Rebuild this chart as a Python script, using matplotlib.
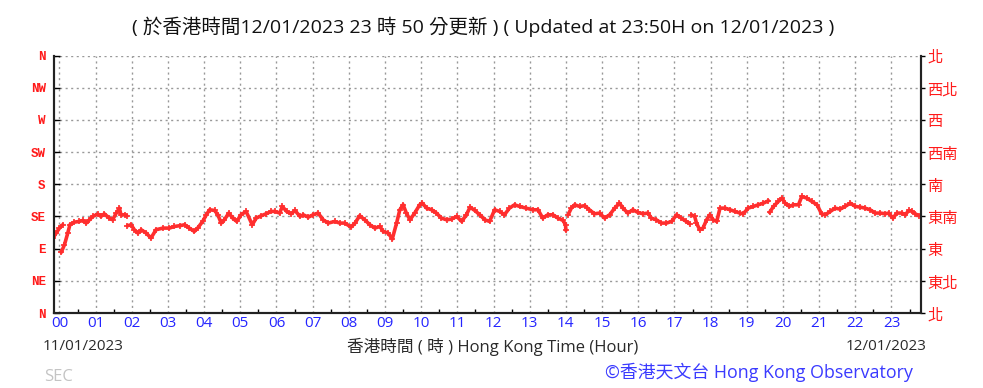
import numpy as np
import matplotlib.pyplot as plt

# wind direction (degrees) vs HK time (hours), nan = gap in record
hours = [-0.18, -0.09, 0.0, 0.09, np.nan,
         0.05, 0.14, 0.23, 0.29, 0.41, 0.55, 0.65, 0.74, 0.83, 0.92, 1.06, 1.15,
         1.24, 1.38, 1.47, 1.57, 1.66, 1.70, 1.80, 1.86, np.nan,
         1.88, 1.98, 2.07, 2.17, 2.26, 2.40, 2.53, 2.67, 2.86, 3.04, 3.18, 3.32,
         3.46, 3.59, 3.73, 3.82, 3.96, 4.06, 4.15, 4.29, 4.38, 4.47, 4.56, 4.68,
         4.79, 4.90, 5.02, 5.16, 5.33, 5.44, 5.58, 5.71, 5.85, 5.95, 6.09, 6.16,
         6.28, 6.41, 6.51, 6.65, 6.74, 6.88, 7.01, 7.15, 7.29, 7.43, 7.61, 7.75,
         7.89, 8.06, 8.17, 8.30, 8.44, 8.58, 8.72, 8.86, 8.95, 9.09, 9.20, 9.32,
         9.41, 9.50, 9.59, 9.69, 9.82, 9.96, 10.03, 10.15, 10.29, 10.42, 10.56,
         10.70, 10.84, 10.98, 11.12, 11.25, 11.35, 11.48, 11.62, 11.76, 11.89,
         12.03, 12.17, 12.30, 12.44, 12.58, 12.72, 12.90, 13.09, 13.23, 13.36,
         13.50, 13.64, 13.78, 13.92, 13.99, 14.0, np.nan,
         14.06, 14.15, 14.24, 14.38, 14.52, 14.65, 14.79, 14.93, 15.07, 15.21,
         15.35, 15.48, 15.58, 15.71, 15.85, 15.99, 16.13, 16.27, 16.36, 16.50,
         16.64, 16.78, 16.92, 17.06, 17.19, 17.33, 17.42, np.nan,
         17.47, 17.56, 17.61, 17.70, 17.79, 17.89, 17.98, 18.07, 18.17, 18.26,
         18.40, 18.54, 18.67, 18.81, 18.90, 19.04, 19.18, 19.32, 19.46, 19.60, np.nan,
         19.63, 19.74, 19.87, 19.97, 20.06, 20.18, 20.29, 20.43, 20.52, 20.66,
         20.80, 20.94, 21.07, 21.17, 21.31, 21.44, 21.58, 21.72, 21.86, 22.00,
         22.14, 22.27, 22.41, 22.55, 22.69, 22.83, 22.92, 23.04, 23.15, 23.29,
         23.38, 23.48, 23.57, 23.66, 23.75]
direction = [104.8, 111.7, 118.7, 123.4, np.nan,
             84.8, 95.5, 111.7, 123.4, 127.0, 128.0, 129.4, 125.7, 130.3, 135.0, 138.3, 135.0,
             138.7, 132.7, 130.3, 139.7, 146.6, 137.3, 137.3, 136.0, np.nan,
             122.0, 123.4, 116.4, 111.7, 116.4, 111.7, 104.8, 116.4, 118.7, 118.7, 121.0, 122.0,
             123.4, 118.7, 114.0, 118.7, 128.0, 137.3, 144.3, 143.4, 137.3, 125.7, 130.3, 139.7,
             132.7, 128.0, 137.3, 142.0, 123.4, 132.7, 136.0, 138.7, 142.0, 142.0, 139.7, 149.0,
             142.0, 138.7, 143.4, 135.0, 137.3, 134.0, 137.3, 139.7, 130.3, 125.7, 128.0, 125.7,
             125.7, 120.1, 125.7, 136.0, 130.3, 123.4, 118.7, 121.0, 114.0, 111.7, 103.4, 125.7,
             144.3, 151.3, 139.7, 130.3, 139.7, 151.3, 153.6, 146.6, 144.3, 139.7, 132.7,
             130.3, 131.3, 135.0, 128.0, 137.3, 148.0, 143.4, 137.3, 130.3, 128.0,
             144.3, 142.0, 137.3, 146.6, 151.3, 149.0, 146.6, 144.3, 144.3, 132.7,
             137.3, 137.3, 132.7, 129.4, 123.4, 115.5, np.nan,
             137.3, 146.6, 151.3, 149.0, 150.0, 144.3, 138.7, 139.7, 132.7, 137.3,
             146.6, 153.6, 146.6, 139.7, 144.3, 140.6, 138.7, 139.7, 132.7, 130.3,
             125.7, 125.7, 128.0, 137.3, 132.7, 128.0, 124.8, np.nan,
             137.3, 135.0, 125.7, 116.4, 118.7, 130.3, 137.3, 130.3, 128.0, 146.6,
             146.6, 144.3, 142.0, 139.7, 138.7, 146.6, 149.0, 151.3, 153.6, 156.9, np.nan,
             140.6, 149.0, 155.9, 160.6, 153.6, 149.0, 151.3, 151.3, 162.9, 160.6,
             155.9, 151.3, 138.7, 137.3, 142.0, 146.6, 145.2, 149.0, 153.6, 149.0,
             148.0, 146.6, 144.3, 139.7, 139.7, 138.7, 139.7, 132.7, 139.7, 139.7,
             137.3, 143.4, 142.0, 138.7, 136.0]

dir_levels = [0, 45, 90, 135, 180, 225, 270, 315, 360]
dir_en = ['N', 'NE', 'E', 'SE', 'S', 'SW', 'W', 'NW', 'N']
dir_zh = ['北', '東北', '東', '東南', '南', '西南', '西', '西北', '北']
hour_labels = ['%02d' % h for h in range(24)]

title_txt = '( 於香港時間12/01/2023 23 時 50 分更新 ) ( Updated at 23:50H on 12/01/2023 )'
xlabel_txt = '香港時間 ( 時 ) Hong Kong Time (Hour)'
date_left = '11/01/2023'
date_right = '12/01/2023'
credit_txt = '©香港天文台 Hong Kong Observatory'

fam = ['Open Sans', 'Noto Sans CJK TC', 'DejaVu Sans']
plt.rcParams['font.family'] = fam

W, H = 983, 388
fig = plt.figure(figsize=(W / 100, H / 100), dpi=100)
ax = fig.add_axes([54 / W, 1 - 313 / H, (921.5 - 54) / W, (313 - 55.5) / H])

red = '#ff1a1a'
ax.plot(hours, direction, color='#ff2e2e', lw=2.6, marker='+', ms=5, mew=1.2,
        solid_capstyle='round', zorder=3)

ax.set_xlim(-0.15, 23.83)
ax.set_ylim(0, 360)

ax.set_xticks(range(24))
ax.set_xticklabels(hour_labels, color='#2424ff', fontsize=11)
ax.set_xticks(np.arange(0.5, 24, 1.0), minor=True)
ax.tick_params(axis='x', which='major', length=0, pad=2)
ax.tick_params(axis='x', which='minor', length=3, direction='in', width=1, color='black')

ax.set_yticks(dir_levels)
ax.set_yticklabels(dir_en, color=red, fontsize=9, family='Liberation Mono',
                   fontweight='bold')
ax.tick_params(axis='y', which='major', length=4, direction='in', width=1, pad=6,
               color='black')

ax2 = ax.twinx()
ax2.set_ylim(0, 360)
ax2.set_yticks(dir_levels)
ax2.set_yticklabels(dir_zh, color=red, fontsize=11, family=['Noto Sans CJK TC'])
ax2.tick_params(axis='y', length=3, direction='out', width=1, pad=1, color='black')

ax.grid(True, which='major', color='#999999', ls=(0, (1.5, 2.5)), lw=1)
for a in (ax, ax2):
    a.spines['top'].set_visible(False)
    for s in ('left', 'right', 'bottom'):
        a.spines[s].set_linewidth(1.5)
        a.spines[s].set_color('#222222')

fig.text(483 / W, 1 - 27 / H, title_txt, ha='center', va='center', fontsize=14,
         color='#111111')
fig.text(43 / W, 1 - 347 / H, date_left, ha='left', va='center', fontsize=11,
         color='#2a2a2a')
fig.text(493 / W, 1 - 347 / H, xlabel_txt, ha='center', va='center', fontsize=12,
         color='#2a2a2a')
fig.text(927 / W, 1 - 347 / H, date_right, ha='right', va='center', fontsize=11,
         color='#2a2a2a')
fig.text(44 / W, 1 - 377 / H, 'SEC', ha='left', va='center', fontsize=12,
         color='#c4c4c4')
fig.text(913 / W, 1 - 372 / H, credit_txt, ha='right', va='center', fontsize=12.9,
         color='#3a3aff')

fig.savefig('out.png', dpi=100)
